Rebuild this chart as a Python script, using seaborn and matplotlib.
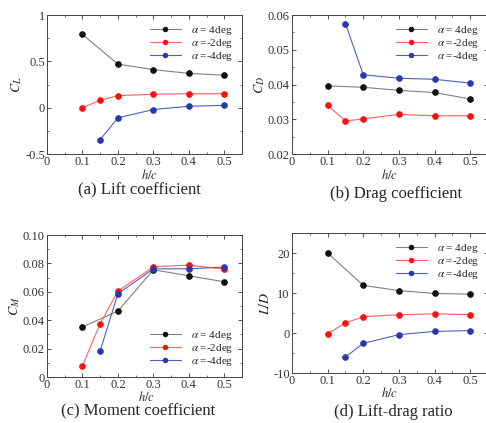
import numpy as np
import pandas as pd
import matplotlib
matplotlib.use("Agg")
import matplotlib.pyplot as plt
import seaborn as sns
from matplotlib.ticker import MultipleLocator, AutoMinorLocator

sns.set_style("ticks")
plt.rcParams["font.family"] = ["Liberation Serif", "DejaVu Sans"]
plt.rcParams["mathtext.fontset"] = "stix"

# h/c positions for each angle of attack
hc_pos4 = [0.1, 0.2, 0.3, 0.4, 0.5]
hc_neg2 = [0.1, 0.15, 0.2, 0.3, 0.4, 0.5]
hc_neg4 = [0.15, 0.2, 0.3, 0.4, 0.5]

# lift coefficient
cl_pos4 = [0.79, 0.47, 0.41, 0.37, 0.35]
cl_neg2 = [0.0, 0.08, 0.13, 0.145, 0.15, 0.15]
cl_neg4 = [-0.345, -0.11, -0.02, 0.015, 0.025]

# drag coefficient
cd_pos4 = [0.0396, 0.0392, 0.0383, 0.0377, 0.0358]
cd_neg2 = [0.0340, 0.0295, 0.0301, 0.0314, 0.0310, 0.0310]
cd_neg4 = [0.0575, 0.0428, 0.0418, 0.0415, 0.0404]

# moment coefficient
cm_pos4 = [0.0353, 0.0464, 0.0755, 0.0713, 0.0670]
cm_neg2 = [0.0078, 0.0376, 0.0605, 0.0776, 0.0788, 0.0760]
cm_neg4 = [0.0184, 0.0586, 0.0762, 0.0762, 0.0774]

# lift-drag ratio
ld_pos4 = [20.0, 11.9, 10.6, 9.9, 9.7]
ld_neg2 = [-0.15, 2.5, 4.1, 4.55, 4.8, 4.6]
ld_neg4 = [-6.0, -2.6, -0.4, 0.4, 0.6]

labels = [r"$\alpha$ = 4deg", r"$\alpha$ =-2deg", r"$\alpha$ =-4deg"]
line_cols = ["#808080", "#ff6060", "#5060c0"]
mark_cols = ["#111111", "#ff1010", "#2838b0"]

W, H = 486, 423
fig = plt.figure(figsize=(W / 100, H / 100), dpi=100)


def px_axes(left, top, right, bottom):
    return fig.add_axes([left / W, 1 - bottom / H, (right - left) / W, (bottom - top) / H])


def px_text(x, y, s, **kw):
    fig.text(x / W, 1 - y / H, s, **kw)


panels = [
    dict(box=(47, 15, 242, 154), ys=(cl_pos4, cl_neg2, cl_neg4), ylim=(-0.5, 1), major=0.5,
         ylab=r"$C_L$", yfmt="{:g}", loc="upper right", title="(a) Lift coefficient",
         tpos=(139, 190), xl=(150, 175)),
    dict(box=(292, 15, 488, 154), ys=(cd_pos4, cd_neg2, cd_neg4), ylim=(0.02, 0.06), major=0.01,
         ylab=r"$C_D$", yfmt="{:.2f}", loc="upper right", title="(b) Drag coefficient",
         tpos=(396, 194), xl=(390, 175)),
    dict(box=(47, 235, 242, 377), ys=(cm_pos4, cm_neg2, cm_neg4), ylim=(0, 0.1), major=0.02,
         ylab=r"$C_M$", yfmt="{:.2f}", loc="lower right", title="(c) Moment coefficient",
         tpos=(138, 411), xl=(147, 397)),
    dict(box=(292, 233, 488, 373), ys=(ld_pos4, ld_neg2, ld_neg4), ylim=(-10, 25), major=10,
         ylab=r"$L/D$", yfmt="{:g}", loc="upper right", title="(d) Lift-drag ratio",
         tpos=(393, 412), xl=(390, 393)),
]

xs = (hc_pos4, hc_neg2, hc_neg4)

for p in panels:
    ax = px_axes(*p["box"])
    for x, y, lab, lc, mc in zip(xs, p["ys"], labels, line_cols, mark_cols):
        sns.lineplot(x=x, y=y, ax=ax, sort=False, color=lc, lw=0.8, marker="o", ms=4,
                     markerfacecolor=mc, markeredgecolor=mc, label=lab)
    ax.set_xlim(0, 0.55)
    ax.set_ylim(*p["ylim"])
    ax.yaxis.set_major_locator(MultipleLocator(p["major"]))
    ax.yaxis.set_minor_locator(AutoMinorLocator(2))
    yt = [t for t in ax.get_yticks() if p["ylim"][0] - 1e-9 <= t <= p["ylim"][1] + 1e-9]
    ax.set_yticks(yt)
    ax.set_yticklabels([p["yfmt"].format(round(t, 3)) if abs(t) > 1e-12 else "0" for t in yt])
    ax.set_xticks([0, 0.1, 0.2, 0.3, 0.4, 0.5])
    ax.set_xticklabels(["0", "0.1", "0.2", "0.3", "0.4", "0.5"])
    ax.xaxis.set_minor_locator(MultipleLocator(0.05))
    ax.tick_params(which="both", direction="in", top=True, right=True, labelsize=9, pad=1.5,
                   colors="#333333")
    ax.tick_params(which="major", length=3, width=0.6)
    ax.tick_params(which="minor", length=1.5, width=0.5)
    for s in ax.spines.values():
        s.set_linewidth(0.7)
        s.set_color("#444444")
    ax.set_xlabel("")
    ax.set_ylabel(p["ylab"], fontsize=10, labelpad=1)
    ax.legend(loc=p["loc"], frameon=False, fontsize=8, handlelength=2.8, markerscale=0.8,
              handletextpad=0.9, labelspacing=0.0, borderaxespad=0.4)
    px_text(*p["xl"], r"$h/c$", fontsize=9, ha="center", va="center")
    px_text(*p["tpos"], p["title"], fontsize=12, ha="center", va="center")

fig.savefig("out.png", dpi=100)
